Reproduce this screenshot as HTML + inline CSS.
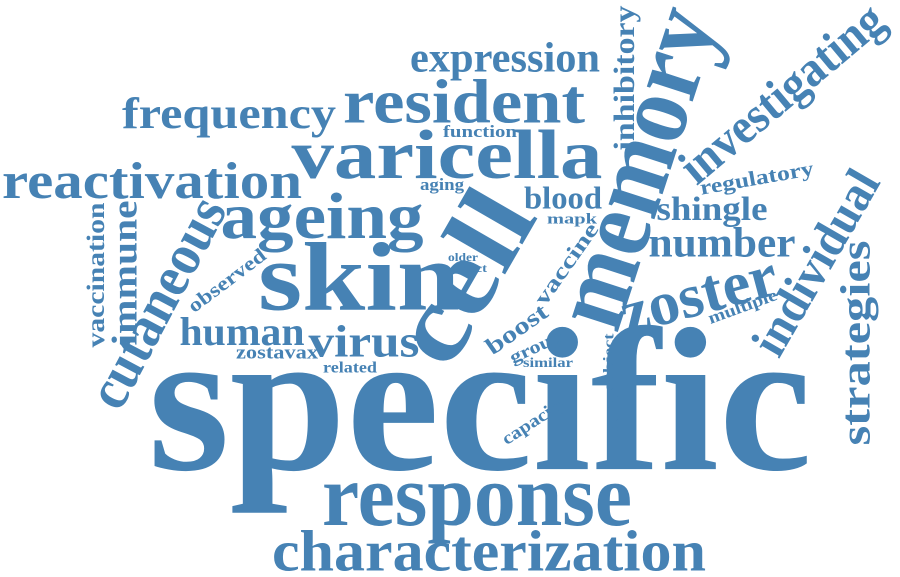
<!DOCTYPE html>
<html><head><meta charset="utf-8"><style>
html,body{margin:0;padding:0;background:#fff;}
svg{display:block;}
text{font-family:"Liberation Serif","DejaVu Serif",serif;font-weight:bold;fill:#4682b4;}
</style></head><body>
<svg id="cloud" width="900" height="577" viewBox="0 0 900 577" xmlns="http://www.w3.org/2000/svg"></svg>
<script>
const words = ["specific","response","characterization","resident","varicella","expression","frequency","reactivation","ageing","skin","human","virus","zostavax","related","function","aging","blood","mapk","shingle","regulatory","number","zoster","multiple","older","effect","similar","group","boost","vaccine","cell","memory","inhibitory","investigating","individual","strategies","cutaneous","immune","vaccination","observed","subject","decline","capacity"];
const fontSizes = [205,88,58,62,70,42,44,52,66,98,40,46,19,16,17,17,32,15,34,21,42,62,17,12,12,14,18,24,22,108,105,30,50,50,42,58,36,25,20,15,15,18];
const centerX = [480,477,489,464,447,505,229,152,322,359,242,364,277,350,480,442,563,572,712,757,722,700,743,463,470,548,537,518,568,472,645,627,785,820,860,162,128,98,228,610,615,535];
const centerY = [422,505,557,108,162,62,118,186,223,287,336,346,354,369,133,186,201,220,212,180,247,300,308,258,269,364,348,331,265,282,170,78,97,265,343,305,273,275,282,362,415,422];
const angles = [0,0,0,0,0,0,0,0,0,0,0,0,0,0,0,0,0,0,0,-10,0,-15,-20,0,0,0,-25,-35,-55,-60,-72,-90,-40,-60,-90,-62,-90,-90,-37,-90,-90,-33];
const lengths = [664,310,434,242,311,190,214,300,203,202,125,111,82,54,74,44,78,50,111,115,147,160,72,30,34,50,57,70,95,180,330,145,250,205,205,230,145,145,92,57,55,73];
const svg = document.getElementById('cloud');
const NS = 'http://www.w3.org/2000/svg';
const order = words.map((w, i) => i).sort((a, b) => fontSizes[b] - fontSizes[a]);
for (const i of order) {
  const t = document.createElementNS(NS, 'text');
  
  
  t.setAttribute('text-anchor', 'middle');
  t.setAttribute('font-size', fontSizes[i]);
  t.setAttribute('x', 0);
  t.setAttribute('y', (0.23 * fontSizes[i]).toFixed(1));
  t.setAttribute('textLength', lengths[i]);
  t.setAttribute('lengthAdjust', 'spacingAndGlyphs');
  t.setAttribute('transform', 'translate(' + centerX[i] + ',' + centerY[i] + ') rotate(' + angles[i] + ')');
  t.textContent = words[i];
  svg.appendChild(t);
}
</script>
</body></html>
